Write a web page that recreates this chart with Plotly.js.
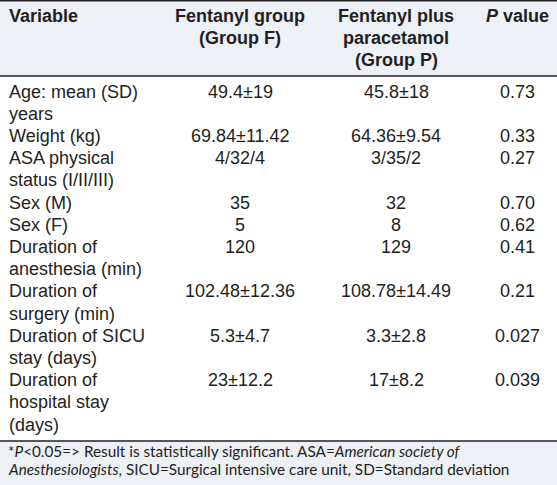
<!DOCTYPE html>
<html>
<head>
<meta charset="utf-8">
<script src="https://cdn.plot.ly/plotly-3.0.1.min.js"></script>
<style>
html,body{margin:0;padding:0;background:#fff;}
#chart{width:557px;height:485px;}
</style>
</head>
<body>
<div id="chart"></div>
<script>
// ---- data ----
var headers = ["Variable", "Fentanyl group<br>(Group F)", "Fentanyl plus<br>paracetamol<br>(Group P)", "<i>P</i> value"];
var variables = ["Age: mean (SD)<br>years", "Weight (kg)", "ASA physical<br>status (I/II/III)", "Sex (M)", "Sex (F)",
  "Duration of<br>anesthesia (min)", "Duration of<br>surgery (min)", "Duration of SICU<br>stay (days)", "Duration of<br>hospital stay<br>(days)"];
var groupF = ["49.4±19", "69.84±11.42", "4/32/4", "35", "5", "120", "102.48±12.36", "5.3±4.7", "23±12.2"];
var groupP = ["45.8±18", "64.36±9.54", "3/35/2", "32", "8", "129", "108.78±14.49", "3.3±2.8", "17±8.2"];
var pValues = ["0.73", "0.33", "0.27", "0.70", "0.62", "0.41", "0.21", "0.027", "0.039"];
var footnoteLines = [
  "*<i>P</i>&lt;0.05=&gt; Result is statistically significant. ASA=<i>American society of</i>",
  "<i>Anesthesiologists</i>, SICU=Surgical intensive care unit, SD=Standard deviation"
];

// ---- layout settings (positions / styles) ----
var W = 557, H = 485;
var colX = [7, 240, 396, 517];
var colAnchor = ["left", "center", "center", "center"];
var headerY0 = 15.6, headerStep = 22.3;
var bodyY0 = 91.6, bodyStep = 22.2;
var headerBottom = 76, footerTop = 441;
var footY0 = 451.2, footStep = 18;
var textColor = "#231f20";
var bandColor = "#edf0f5";
var font = "Liberation Sans, Arial, sans-serif";
var fontSize = 18;

var annotations = [];
function addText(text, col, y, bold) {
  annotations.push({
    xref: "x", yref: "y", x: colX[col], y: y,
    xanchor: colAnchor[col], yanchor: "middle", align: colAnchor[col],
    showarrow: false, text: text,
    font: {family: font, size: fontSize, color: textColor, weight: bold ? "bold" : "normal"}
  });
}

// header
headers.forEach(function (h, c) {
  h.split("<br>").forEach(function (line, k) {
    addText(line, c, headerY0 + k * headerStep, true);
  });
});

// body: every text line sits on its own line slot
var columns = [variables, groupF, groupP, pValues];
var slot = 0;
variables.forEach(function (v, i) {
  var parts = columns.map(function (col) { return col[i].split("<br>"); });
  var n = Math.max.apply(null, parts.map(function (p) { return p.length; }));
  parts.forEach(function (p, c) {
    p.forEach(function (line, k) {
      addText(line, c, bodyY0 + (slot + k) * bodyStep, false);
    });
  });
  slot += n;
});

// footnote
footnoteLines.forEach(function (line, k) {
  annotations.push({
    xref: "x", yref: "y", x: 6, y: footY0 + k * footStep,
    xanchor: "left", yanchor: "middle", align: "left", showarrow: false, text: line,
    font: {family: "Lato, sans-serif", size: 15.3, color: textColor}
  });
});

var hidden = {visible: false, fixedrange: true, showgrid: false, zeroline: false};
var layout = {
  width: W, height: H,
  margin: {l: 0, r: 0, t: 0, b: 0},
  paper_bgcolor: "white", plot_bgcolor: "white",
  showlegend: false,
  xaxis: Object.assign({range: [0, W]}, hidden),
  yaxis: Object.assign({range: [H, 0]}, hidden),
  shapes: [
    {type: "rect", xref: "x", yref: "y", x0: 0, x1: W, y0: 0, y1: headerBottom,
     fillcolor: bandColor, line: {width: 0}, layer: "below"},
    {type: "rect", xref: "x", yref: "y", x0: 0, x1: W, y0: footerTop, y1: H,
     fillcolor: bandColor, line: {width: 0}, layer: "below"},
    {type: "line", xref: "x", yref: "y", x0: 0, x1: W, y0: 0.8, y1: 0.8,
     line: {color: "#231f20", width: 1.6}},
    {type: "line", xref: "x", yref: "y", x0: 0, x1: W, y0: headerBottom, y1: headerBottom,
     line: {color: "#231f20", width: 1.6}},
    {type: "line", xref: "x", yref: "y", x0: 0, x1: W, y0: footerTop, y1: footerTop,
     line: {color: "#231f20", width: 1.6}}
  ],
  annotations: annotations
};

Plotly.newPlot("chart", [{type: "scatter", x: [], y: [], hoverinfo: "skip"}], layout,
  {displayModeBar: false, staticPlot: true});
</script>
</body>
</html>
